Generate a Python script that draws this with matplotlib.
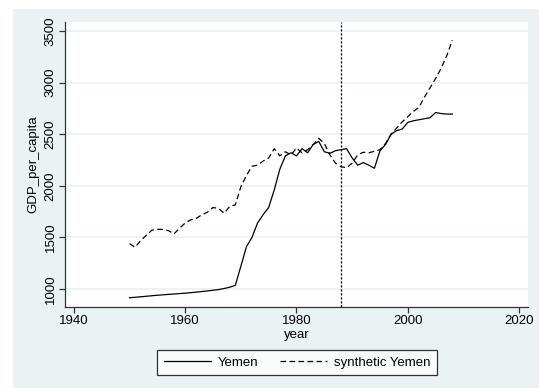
import numpy as np
import matplotlib.pyplot as plt
import matplotlib.patches as mpatches

plt.rcParams['font.family'] = ['Liberation Sans', 'DejaVu Sans']

years = list(range(1950, 2009))

yemen = [916, 920, 925, 930, 935, 940, 944, 948, 952, 956,
         960, 965, 970, 976, 982, 988, 995, 1005, 1018, 1035,
         1220, 1410, 1500, 1640, 1720, 1790, 1960, 2160, 2290, 2320,
         2290, 2360, 2320, 2400, 2430, 2330, 2315, 2340, 2350, 2360,
         2270, 2200, 2225, 2200, 2170, 2340, 2400, 2500, 2535, 2550,
         2615, 2630, 2640, 2650, 2660, 2710, 2700, 2695, 2695]

synthetic = [1440, 1405, 1470, 1520, 1570, 1578, 1578, 1565, 1535, 1590,
             1640, 1670, 1685, 1720, 1745, 1790, 1780, 1735, 1800, 1815,
             1990, 2100, 2190, 2200, 2240, 2270, 2360, 2290, 2330, 2300,
             2365, 2320, 2350, 2400, 2460, 2410, 2300, 2220, 2185, 2175,
             2220, 2300, 2325, 2320, 2335, 2350, 2410, 2500, 2560, 2620,
             2670, 2720, 2760, 2860, 2950, 3040, 3140, 3260, 3410]

treat_year = 1988
xticks = [1940, 1960, 1980, 2000, 2020]
yticks = [1000, 1500, 2000, 2500, 3000, 3500]

bg = '#EAF2F3'

fig = plt.figure(figsize=(5.39, 3.88), dpi=100, facecolor='white')
# light graph region behind everything
fig.patches.append(mpatches.Rectangle((13 / 539, 0), 1 - 13 / 539, 379 / 388,
                                      transform=fig.transFigure, facecolor=bg,
                                      edgecolor='none', zorder=-10))

ax = fig.add_axes([65 / 539, 81 / 388, 463 / 539, 285 / 388])
ax.set_facecolor('white')

ax.plot(years, yemen, color='black', lw=0.9, label='Yemen')
ax.plot(years, synthetic, color='black', lw=0.9, linestyle=(0, (4.5, 2.7)),
        label='synthetic Yemen')
ax.axvline(treat_year, color='black', lw=0.9, linestyle=(0, (1.8, 1.4)))

ax.set_xlim(1938.4, 2021.6)
ax.set_ylim(826, 3587)
ax.set_xticks(xticks)
ax.set_yticks(yticks)
ax.set_yticklabels([str(v) for v in yticks], rotation=90, va='center')
ax.grid(axis='y', color=bg, lw=1.2)
ax.set_axisbelow(True)

for s in ['top', 'right']:
    ax.spines[s].set_visible(False)
for s in ['left', 'bottom']:
    ax.spines[s].set_color('#333333')
    ax.spines[s].set_linewidth(0.9)
ax.tick_params(axis='both', labelsize=9.5, length=4, width=0.9, color='#333333', pad=2)

ax.set_xlabel('year', fontsize=9.5, labelpad=1)
ax.set_ylabel('GDP_per_capita', fontsize=9.5, labelpad=4)

leg = fig.legend(loc='center', bbox_to_anchor=(297 / 539, 1 - 362.5 / 388), ncol=2,
                 fontsize=9.5, frameon=True, fancybox=False, edgecolor='black',
                 handlelength=3.6, handletextpad=0.5, columnspacing=1.6,
                 borderpad=0.5)
leg.get_frame().set_linewidth(0.9)

fig.savefig('out.png', dpi=100, facecolor='white')
